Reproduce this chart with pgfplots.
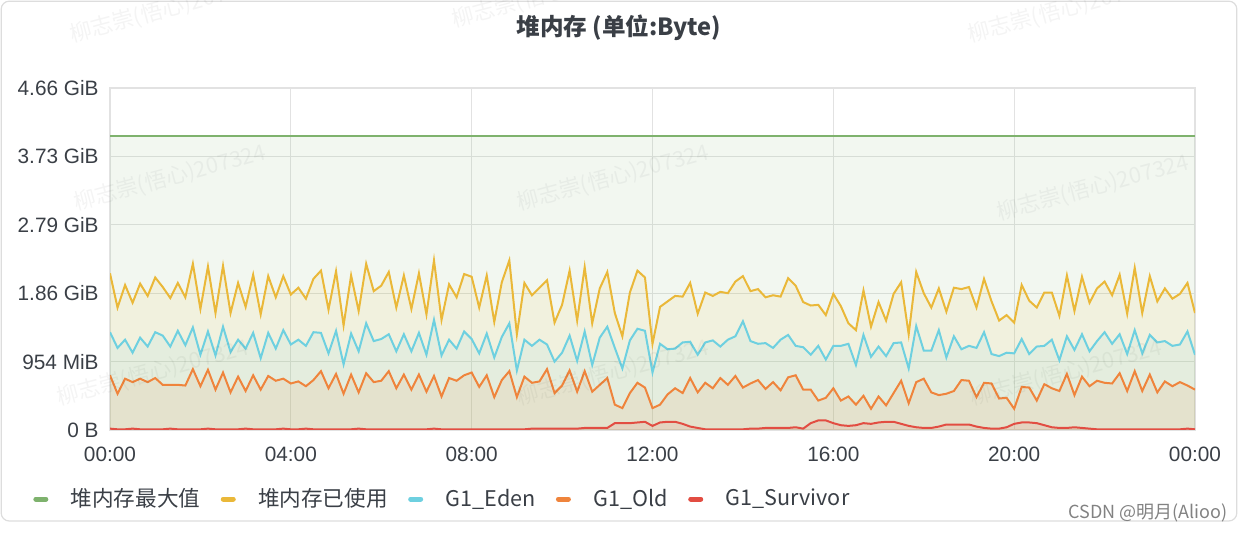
\documentclass[border=0pt]{standalone}
\usepackage{pgfplots}
\pgfplotsset{compat=1.18}
\usepackage{pgfplotstable}
\usepackage{fontspec}
\setmainfont{Liberation Sans}
\newfontfamily\cjk{Noto Sans CJK SC}
\definecolor{cmax}{HTML}{7EB26D}
\definecolor{cused}{HTML}{EAB839}
\definecolor{ceden}{HTML}{6ED0E0}
\definecolor{cold}{HTML}{EF843C}
\definecolor{csurv}{HTML}{E24D42}
\definecolor{gridc}{HTML}{E2E2E2}
\definecolor{txt}{HTML}{3A3F46}
\definecolor{frame}{HTML}{DDDDDD}
\definecolor{wm}{HTML}{828282}

\pgfplotstableread{
t used eden old surv
0 2.29 1.43 0.80 0.02
10 1.79 1.20 0.53 0.01
20 2.12 1.32 0.75 0.01
30 1.86 1.13 0.70 0.02
40 2.14 1.35 0.75 0.01
50 1.96 1.22 0.70 0.01
60 2.23 1.43 0.76 0.01
70 2.09 1.38 0.66 0.01
80 1.93 1.22 0.66 0.02
90 2.15 1.45 0.66 0.01
100 1.94 1.24 0.65 0.01
110 2.43 1.50 0.89 0.01
120 1.77 1.10 0.64 0.01
130 2.39 1.44 0.88 0.02
140 1.71 1.09 0.59 0.01
150 2.40 1.51 0.84 0.01
160 1.71 1.14 0.55 0.01
170 2.15 1.32 0.78 0.01
180 1.80 1.19 0.57 0.02
190 2.27 1.42 0.80 0.01
200 1.69 1.05 0.59 0.01
210 2.25 1.42 0.79 0.01
220 1.94 1.19 0.72 0.01
230 2.25 1.46 0.75 0.02
240 1.98 1.25 0.68 0.01
250 2.08 1.32 0.71 0.01
260 1.92 1.23 0.64 0.02
270 2.21 1.43 0.73 0.01
280 2.33 1.42 0.86 0.01
290 1.76 1.12 0.61 0.01
300 2.32 1.45 0.82 0.01
310 1.53 0.96 0.53 0.01
320 2.26 1.41 0.81 0.01
330 1.74 1.15 0.55 0.02
340 2.43 1.56 0.83 0.01
350 2.03 1.30 0.70 0.01
360 2.11 1.33 0.72 0.01
370 2.31 1.40 0.86 0.01
380 1.79 1.15 0.61 0.01
390 2.26 1.40 0.81 0.01
400 1.77 1.15 0.59 0.01
410 2.29 1.42 0.81 0.01
420 1.69 1.10 0.56 0.01
430 2.48 1.61 0.79 0.02
440 1.61 1.09 0.49 0.01
450 2.13 1.32 0.76 0.01
460 1.94 1.19 0.72 0.01
470 2.28 1.44 0.80 0.01
480 2.24 1.33 0.84 0.01
490 1.79 1.12 0.63 0.01
500 2.26 1.41 0.80 0.01
510 1.58 1.06 0.48 0.01
520 2.16 1.36 0.73 0.01
530 2.48 1.56 0.86 0.01
540 1.40 0.87 0.48 0.01
550 2.15 1.32 0.78 0.01
560 1.97 1.23 0.69 0.02
570 2.08 1.32 0.71 0.02
580 2.19 1.25 0.89 0.02
590 1.57 1.00 0.54 0.02
600 1.83 1.13 0.65 0.02
610 2.33 1.38 0.87 0.02
620 1.60 1.01 0.56 0.02
630 2.38 1.44 0.86 0.03
640 1.56 0.95 0.56 0.03
650 2.07 1.35 0.66 0.03
660 2.31 1.51 0.76 0.03
670 1.71 1.20 0.37 0.10
680 1.37 0.90 0.32 0.10
690 2.01 1.31 0.54 0.10
700 2.33 1.48 0.69 0.11
710 2.23 1.45 0.62 0.12
720 1.26 0.84 0.32 0.06
730 1.80 1.26 0.37 0.11
740 1.88 1.18 0.52 0.12
750 1.96 1.19 0.61 0.12
760 1.95 1.28 0.54 0.09
770 2.15 1.29 0.76 0.05
780 1.70 1.10 0.55 0.03
790 2.01 1.28 0.69 0.01
800 1.96 1.31 0.61 0.01
810 2.02 1.22 0.76 0.01
820 2.00 1.32 0.66 0.01
830 2.17 1.37 0.79 0.01
840 2.25 1.59 0.62 0.01
850 2.03 1.30 0.68 0.02
860 2.06 1.26 0.73 0.02
870 1.94 1.27 0.60 0.03
880 1.97 1.20 0.70 0.03
890 1.95 1.32 0.58 0.03
900 2.22 1.39 0.77 0.03
910 2.11 1.23 0.80 0.04
920 1.87 1.21 0.59 0.02
930 1.82 1.10 0.59 0.10
940 1.83 1.23 0.43 0.14
950 1.68 1.03 0.47 0.14
960 1.99 1.23 0.61 0.10
970 1.81 1.23 0.43 0.07
980 1.56 1.26 0.49 0.06
990 1.46 0.95 0.37 0.07
1000 2.04 1.39 0.50 0.10
1010 1.51 1.07 0.31 0.09
1020 1.87 1.22 0.49 0.11
1030 1.60 1.08 0.36 0.12
1040 1.99 1.27 0.54 0.12
1050 2.16 1.28 0.72 0.09
1060 1.40 0.90 0.39 0.06
1070 2.31 1.52 0.70 0.04
1080 2.00 1.16 0.75 0.03
1090 1.79 1.16 0.55 0.03
1100 2.07 1.46 0.51 0.05
1110 1.73 1.06 0.53 0.08
1120 2.08 1.37 0.57 0.08
1130 2.06 1.18 0.73 0.08
1140 2.09 1.23 0.72 0.08
1150 1.79 1.20 0.48 0.05
1160 2.21 1.43 0.69 0.03
1170 1.88 1.11 0.68 0.02
1180 1.60 1.08 0.46 0.02
1190 1.68 1.13 0.47 0.04
1200 1.57 1.12 0.31 0.09
1210 2.12 1.33 0.63 0.11
1220 1.89 1.11 0.62 0.11
1230 1.79 1.22 0.43 0.10
1240 2.01 1.23 0.67 0.07
1250 2.01 1.32 0.61 0.04
1260 1.67 1.02 0.57 0.03
1270 2.26 1.37 0.82 0.03
1280 1.74 1.17 0.51 0.04
1290 2.24 1.40 0.78 0.03
1300 1.86 1.15 0.64 0.02
1310 2.07 1.30 0.72 0.01
1320 2.17 1.43 0.69 0.01
1330 1.97 1.26 0.68 0.01
1340 2.27 1.40 0.83 0.01
1350 1.70 1.11 0.57 0.01
1360 2.37 1.46 0.86 0.01
1370 1.71 1.12 0.57 0.01
1380 2.25 1.39 0.81 0.01
1390 1.88 1.28 0.55 0.01
1400 2.07 1.30 0.71 0.01
1410 1.92 1.23 0.64 0.01
1420 1.99 1.25 0.70 0.01
1430 2.15 1.44 0.65 0.02
1440 1.71 1.10 0.59 0.01
}\heap

\begin{document}
\begin{tikzpicture}[x=1pt,y=1pt]
\useasboundingbox (0,0) rectangle (619,267);
\draw[frame, rounded corners=4pt, line width=0.6pt] (0.6,6.5) rectangle (618.4,266.4);
\begin{axis}[
  at={(55pt,52pt)}, anchor=south west,
  scale only axis, width=542.5pt, height=171pt,
  xmin=0, xmax=1440, ymin=0, ymax=5,
  xtick={0,240,...,1440},
  xticklabels={00:00,04:00,08:00,12:00,16:00,20:00,00:00},
  ytick={0,1,2,3,4,5},
  yticklabels={0 B,954 MiB,1.86 GiB,2.79 GiB,3.73 GiB,4.66 GiB},
  grid=major, major grid style={gridc, line width=0.6pt},
  axis line style={gridc, line width=0.6pt},
  major tick length=0pt,
  tick label style={font=\fontsize{10.4}{12}\selectfont, text=txt},
  yticklabel style={inner sep=0pt, xshift=-5.5pt},
  xticklabel style={inner sep=0pt, yshift=-8.5pt},
  legend columns=5,
  legend image code/.code={\draw[#1, line width=2.5pt, line cap=round] (1.25pt,0pt)--(6.25pt,0pt); \path (0pt,0pt) (16.5pt,0pt);},
  legend style={at={(axis description cs:-0.071,-0.2018)}, anchor=west, draw=none, fill=none, inner sep=0pt, outer sep=0pt, font=\cjk\fontsize{10.8}{13}\selectfont, text=txt, /tikz/every even column/.append style={column sep=8pt}},
]
\addplot[draw=none, fill=cmax, fill opacity=0.1, forget plot] coordinates {(0,4.295) (1440,4.295)} \closedcycle;
\addplot[cmax, line width=1pt, forget plot] coordinates {(0,4.295) (1440,4.295)};
\addplot[draw=none, fill=cused, fill opacity=0.1, forget plot] table[x=t,y=used]{\heap} \closedcycle;
\addplot[cused, line width=1pt, forget plot] table[x=t,y=used]{\heap};
\addplot[draw=none, fill=ceden, fill opacity=0.1, forget plot] table[x=t,y=eden]{\heap} \closedcycle;
\addplot[ceden, line width=1pt, forget plot] table[x=t,y=eden]{\heap};
\addplot[draw=none, fill=cold, fill opacity=0.1, forget plot] table[x=t,y=old]{\heap} \closedcycle;
\addplot[cold, line width=1pt, forget plot] table[x=t,y=old]{\heap};
\addplot[draw=none, fill=csurv, fill opacity=0.1, forget plot] table[x=t,y=surv]{\heap} \closedcycle;
\addplot[csurv, line width=1pt, forget plot] table[x=t,y=surv]{\heap};
\addlegendimage{cmax}\addlegendentry{堆内存最大值}
\addlegendimage{cused}\addlegendentry{堆内存已使用}
\addlegendimage{ceden}\addlegendentry{G1\_Eden}
\addlegendimage{cold}\addlegendentry{G1\_Old}
\addlegendimage{csurv}\addlegendentry{G1\_Survivor}
\end{axis}
\foreach \wx/\wy in {36.5/243.5, 227.5/251, 485.5/243.5, 38.5/159.5, 260/159.5, 500/154.5, 30/62, 260/62, 486.5/62}
  \node[anchor=south west, rotate=15, inner sep=0pt, text=black, text opacity=0.045] at (\wx,\wy) {\cjk\fontsize{11}{13}\selectfont 柳志崇(悟心)207324};
\node[text=txt, inner sep=0pt] at (309.5,253) {\cjk\bfseries\fontsize{11.8}{14}\selectfont 堆内存 (单位:Byte)};
\node[anchor=east, inner sep=0pt, text=wm] at (614,10.5) {\cjk\fontsize{9}{10}\selectfont CSDN @明月(Alioo)};
\end{tikzpicture}
\end{document}
